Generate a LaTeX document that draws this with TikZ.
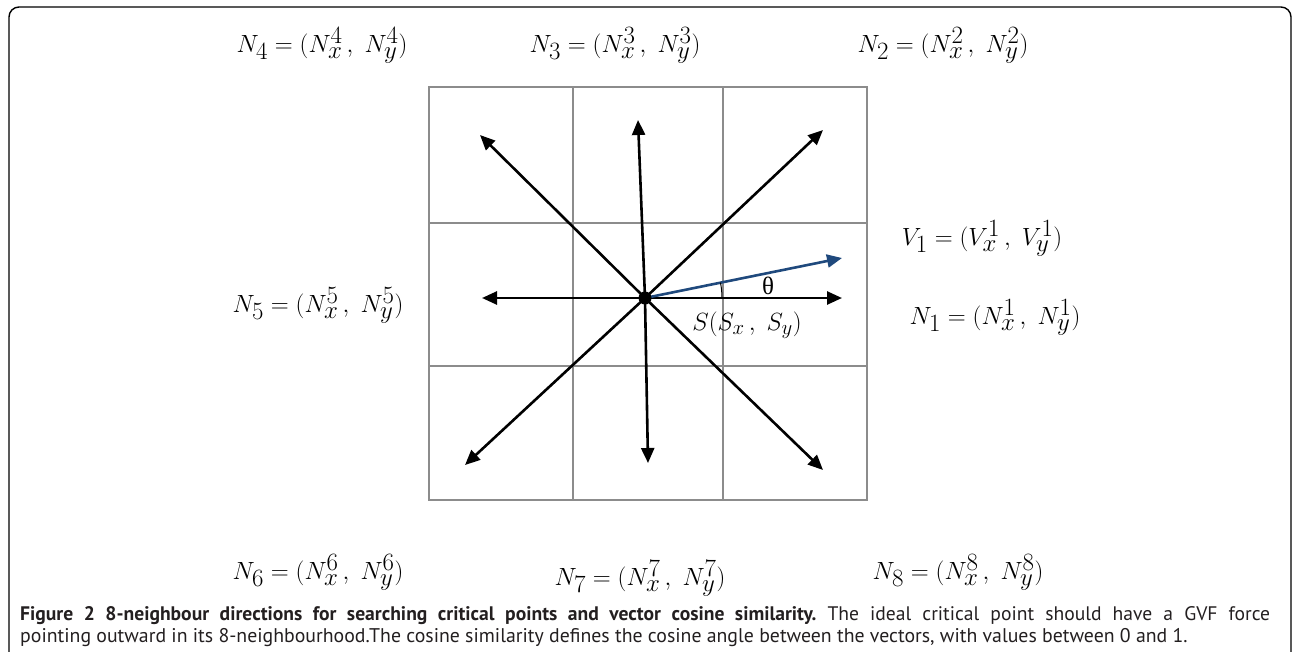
\documentclass[tikz,border=0pt]{standalone}
\usepackage{fontspec}
\newfontfamily\capfont{PT Sans}
\newfontfamily\grkfont{Liberation Serif}
\usetikzlibrary{arrows.meta,calc}
\definecolor{vblue}{RGB}{31,73,125}
\definecolor{gridgray}{RGB}{140,140,140}
\definecolor{captext}{RGB}{35,31,32}
\tikzset{
  lbl/.style={inner sep=0pt, font=\fontsize{33}{36}\selectfont},
  vec/.style={line width=2.6pt, -{Triangle[length=15pt,width=13pt]}},
  gridln/.style={draw=gridgray, line width=1.4pt},
  captionline/.style={inner sep=0pt, anchor=base west, text=captext}
}
\newcommand{\cmm}{\,,\;}
\begin{document}
\begin{tikzpicture}[x=1pt,y=-1pt]
\useasboundingbox (0,0) rectangle (1293,651);
% frame
\draw[line width=1.4pt, rounded corners=10pt] (9,665) -- (9,7) -- (1291,7) -- (1291,665);
% grid
\draw[gridln] (429,87) rectangle (867,500);
\draw[gridln] (573,87) -- (573,500) (723,87) -- (723,500)
              (429,223) -- (867,223) (429,366) -- (867,366);
% centre and arrow ends
\coordinate (c) at (645,298);
\coordinate (e1) at (842,298);
\coordinate (e2) at (823,130);
\coordinate (e3) at (638,120);
\coordinate (e4) at (480,135);
\coordinate (e5) at (482,298);
\coordinate (e6) at (465,465);
\coordinate (e7) at (648,463);
\coordinate (e8) at (823,470);
\coordinate (ev) at (842,258);
\foreach \e in {e1,e2,e3,e4,e5,e6,e7,e8} \draw[vec] (c) -- (\e);
\draw[vec, vblue] (c) -- (ev);
\draw[line width=1pt] ($(c)+(77,0)$) arc[start angle=0, end angle=-11.5, radius=77];
\fill (c) circle (6.5);
\node[lbl, font=\grkfont\fontsize{25}{27}\selectfont] (th) at (768,286) {θ};
\node[lbl, font=\fontsize{30}{32}\selectfont] (s) at (747,325) {$S(S_x\cmm S_y)$};
% labels
\node[lbl] (n4) at (322,45) {$N_4 = (N_x^4\cmm N_y^4)$};
\node[lbl] (n3) at (615,45) {$N_3 = (N_x^3\cmm N_y^3)$};
\node[lbl] (n2) at (943,45) {$N_2 = (N_x^2\cmm N_y^2)$};
\node[lbl] (v1) at (982,238) {$V_1 = (V_x^1\cmm V_y^1)$};
\node[lbl] (n1) at (995,317) {$N_1 = (N_x^1\cmm N_y^1)$};
\node[lbl] (n5) at (318,305) {$N_5 = (N_x^5\cmm N_y^5)$};
\node[lbl] (n6) at (318,572) {$N_6 = (N_x^6\cmm N_y^6)$};
\node[lbl] (n7) at (640,578) {$N_7 = (N_x^7\cmm N_y^7)$};
\node[lbl] (n8) at (958,572) {$N_8 = (N_x^8\cmm N_y^8)$};
% caption
\node[captionline] (cap1) at (20,620) {\capfont\fontsize{19.6}{22}\selectfont\frenchspacing\makebox[1250pt][s]{\bfseries Figure 2 8-neighbour directions for searching critical points and vector cosine similarity.\mdseries{} The ideal critical point should have a GVF force}};
\node[captionline] (cap2) at (20,642) {\capfont\fontsize{19.8}{22}\selectfont\frenchspacing pointing outward in its 8-neighbourhood.The cosine similarity defines the cosine angle between the vectors, with values between 0 and 1.};
\end{tikzpicture}
\end{document}
